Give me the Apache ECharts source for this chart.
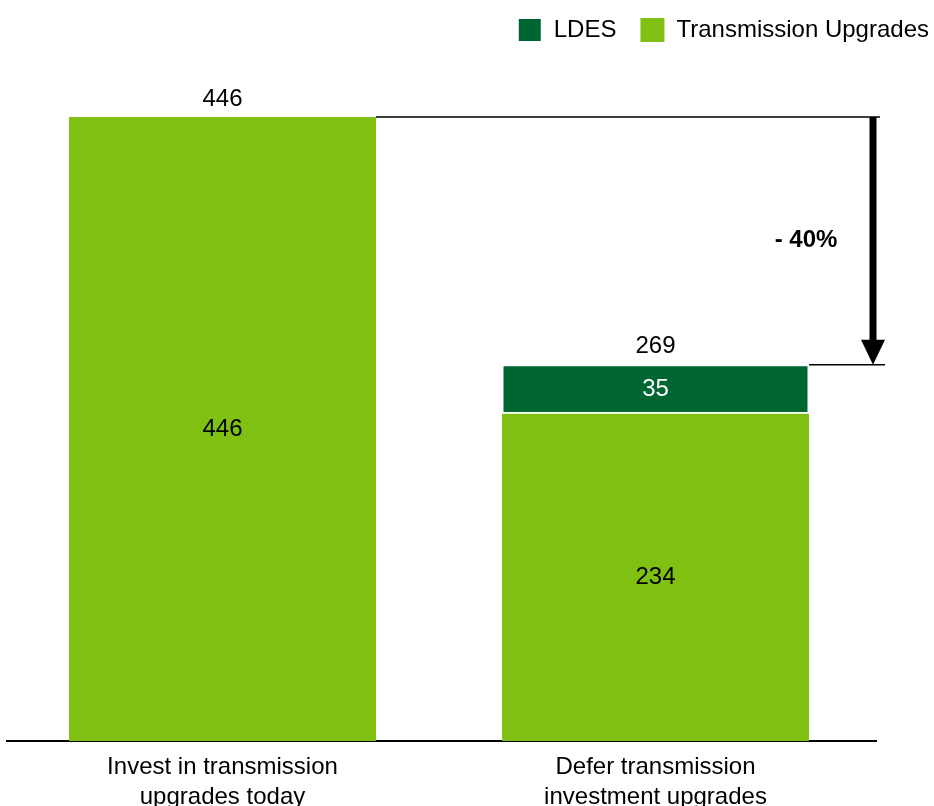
<!DOCTYPE html>
<html>
<head>
<meta charset="utf-8">
<style>html,body{margin:0;padding:0;background:#fff}#c{width:934px;height:806px}</style>
<script src="https://cdn.jsdelivr.net/npm/echarts@6/dist/echarts.min.js"></script>
</head>
<body>
<div id="c"></div>
<script>
const categories = ['Invest in transmission\nupgrades today', 'Defer transmission\ninvestment upgrades'];
const transmission = [446, 234];
const ldes = [null, 35];
const totals = [446, 269];
const changeLabel = '- 40%';

const FONT = '"Liberation Sans", Arial, sans-serif';
const chart = echarts.init(document.getElementById('c'));
chart.setOption({
  animation: false,
  textStyle: { fontFamily: FONT },
  legend: {
    data: ['LDES', 'Transmission Upgrades'],
    right: 0, top: 12,
    itemWidth: 24, itemHeight: 24, itemGap: 24,
    icon: 'rect',
    textStyle: { fontSize: 24, color: '#000', fontFamily: FONT, padding: [0, 0, 0, 7] }
  },
  grid: { left: 6, right: 62, top: 117, bottom: 65, containLabel: false, outerBoundsMode: 'none' },
  xAxis: {
    type: 'category', data: categories,
    axisLine: { show: false },
    axisTick: { show: false },
    axisLabel: { fontSize: 24, color: '#000', lineHeight: 30, margin: 11, fontFamily: FONT }
  },
  yAxis: { type: 'value', min: 0, max: 446, show: false, splitLine: { show: false } },
  series: [
    {
      name: 'Transmission Upgrades', type: 'bar', stack: 's', barWidth: 307,
      data: transmission,
      itemStyle: { color: '#7FC012', borderWidth: 0 },
      label: { show: true, position: 'inside', fontSize: 24, color: '#000', fontFamily: FONT }
    },
    {
      name: 'LDES', type: 'bar', stack: 's', barWidth: 307,
      data: ldes,
      itemStyle: { color: '#006631', borderColor: '#fff', borderWidth: 1.5 },
      label: { show: true, position: 'inside', fontSize: 24, color: '#fff', fontFamily: FONT }
    },
    {
      name: 'Total', type: 'bar', stack: 's', barWidth: 307,
      data: totals.map(() => 0),
      itemStyle: { color: 'transparent' },
      label: { show: true, position: 'top', distance: 6, fontSize: 24, color: '#000', fontFamily: FONT,
        formatter: p => String(totals[p.dataIndex]) }
    }
  ]
});

const p1 = chart.convertToPixel({ gridIndex: 0 }, [0, totals[0]]);
const p2 = chart.convertToPixel({ gridIndex: 0 }, [1, totals[1]]);
const base = chart.convertToPixel({ gridIndex: 0 }, [0, 0]);
const half = 307 / 2;
const ax = 873;
const headH = 25, headW = 12;
chart.setOption({
  graphic: [
    { type: 'line', shape: { x1: 6, y1: base[1], x2: 877, y2: base[1] }, style: { stroke: '#000', lineWidth: 2 } },
    { type: 'line', shape: { x1: p1[0] + half, y1: p1[1], x2: 880, y2: p1[1] }, style: { stroke: '#000', lineWidth: 1.5 } },
    { type: 'line', shape: { x1: p2[0] + half, y1: p2[1], x2: 885, y2: p2[1] }, style: { stroke: '#000', lineWidth: 1.5 } },
    { type: 'rect', shape: { x: ax - 3.5, y: p1[1], width: 7, height: p2[1] - p1[1] - headH + 1 }, style: { fill: '#000' } },
    { type: 'polygon', shape: { points: [[ax - headW, p2[1] - headH], [ax + headW, p2[1] - headH], [ax, p2[1]]] }, style: { fill: '#000' } },
    { type: 'text', x: 806, y: (p1[1] + p2[1]) / 2, style: { text: changeLabel, fontSize: 24, fontWeight: 'bold', fill: '#000', align: 'center', verticalAlign: 'middle', fontFamily: FONT } }
  ]
});
</script>
</body>
</html>
